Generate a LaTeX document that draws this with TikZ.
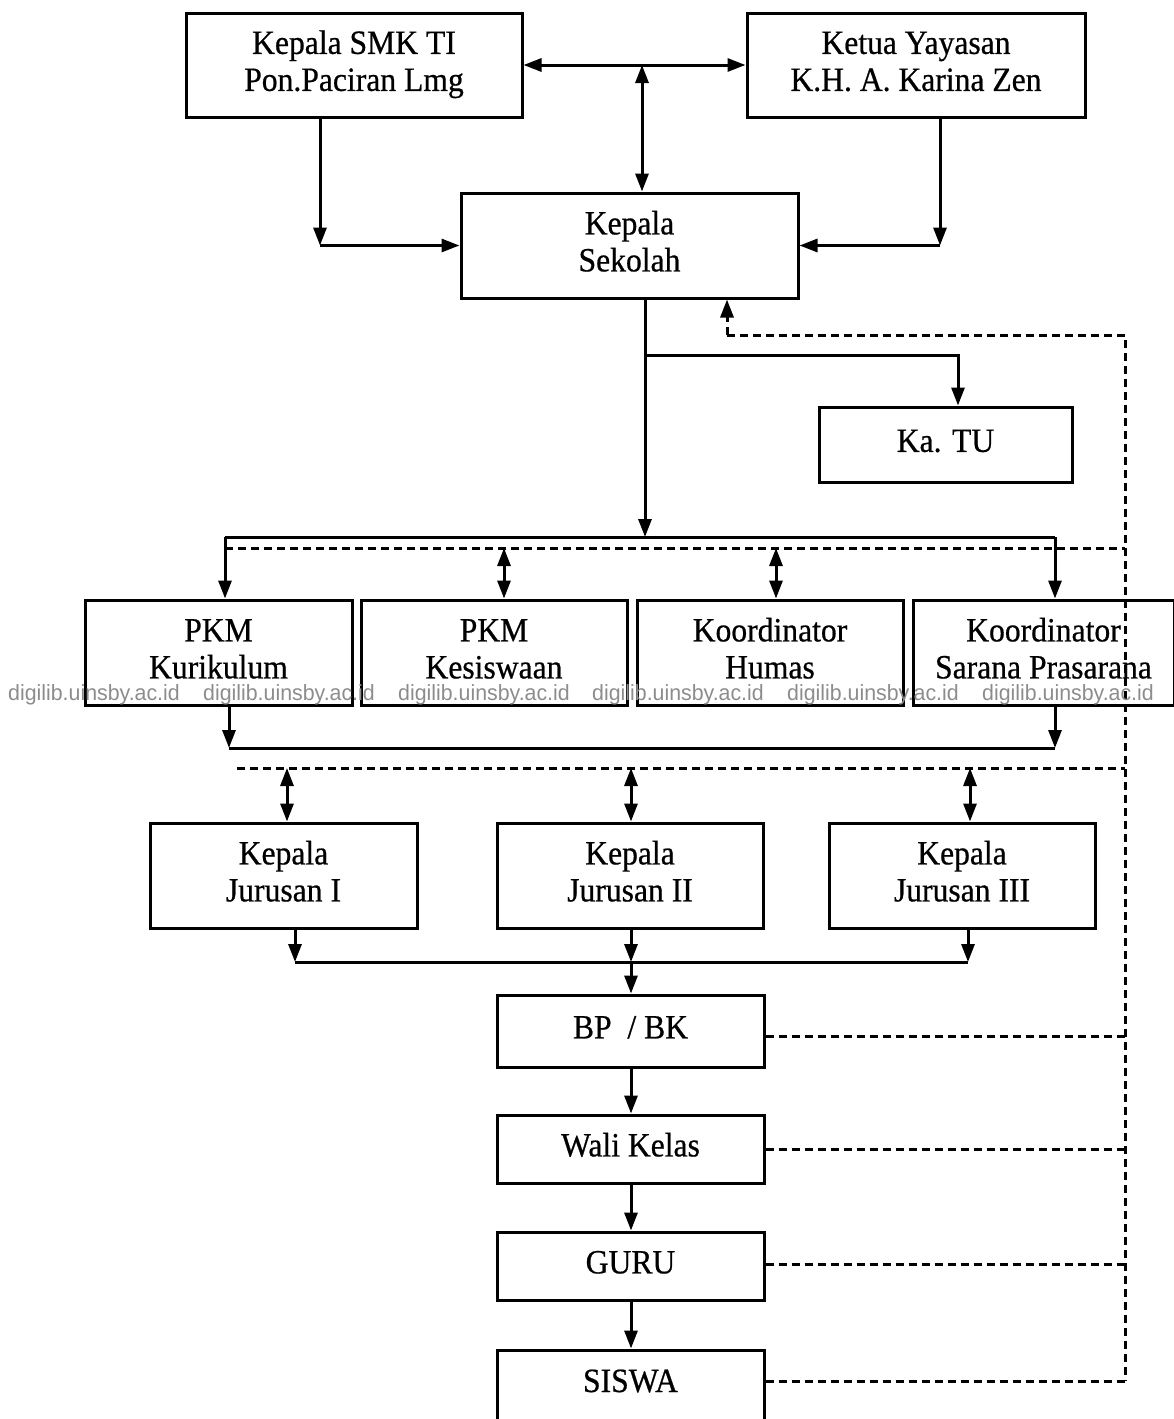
\documentclass[tikz,border=0pt]{standalone}
\usepackage{fontspec}
\setmainfont{Liberation Serif}[FakeStretch=0.93, FakeBold=0.6]
\newfontfamily\wmfont{Liberation Sans}[FakeStretch=0.97]
\usetikzlibrary{arrows.meta,calc}
\tikzset{
  box/.style={draw, line width=3pt, inner sep=0pt, align=center,
    font=\fontsize{34}{37}\selectfont},
  ln/.style={line width=3pt},
  arr/.style={line width=3pt, -{Triangle[length=18pt,width=13pt]}},
  darr/.style={line width=3pt, {Triangle[length=18pt,width=13pt]}-{Triangle[length=18pt,width=13pt]}},
  dsh/.style={line width=3pt, dash pattern=on 8pt off 5pt},
  wm/.style={text=black!45, font=\wmfont\fontsize{22}{22}\selectfont, anchor=west, inner sep=0pt}
}
\begin{document}
\begin{tikzpicture}[x=1pt,y=-1pt]
\useasboundingbox (0,0) rectangle (1174,1419);
% boxes
\node[box, minimum width=336pt, minimum height=104pt] (A) at (354,65) {Kepala SMK TI\strut\\Pon.Paciran Lmg\strut};
\node[box, minimum width=338pt, minimum height=104pt] (B) at (916,65) {Ketua Yayasan\strut\\K.H. A. Karina Zen\strut};
\node[box, minimum width=337pt, minimum height=105pt] (KS) at (629.5,245.5) {Kepala\strut\\Sekolah\strut};
\node[box, minimum width=253pt, minimum height=75pt] (TU) at (945.5,444.5) {Ka. TU\strut};
\node[box, minimum width=267pt, minimum height=105pt] (P1) at (218.5,652.5) {PKM\strut\\Kurikulum\strut};
\node[box, minimum width=266pt, minimum height=105pt] (P2) at (494,652.5) {PKM\strut\\Kesiswaan\strut};
\node[box, minimum width=266pt, minimum height=105pt] (P3) at (770,652.5) {Koordinator\strut\\Humas\strut};
\node[box, minimum width=261pt, minimum height=105pt] (P4) at (1043.5,652.5) {Koordinator\strut\\Sarana Prasarana\strut};
\node[box, minimum width=267pt, minimum height=105pt] (J1) at (283.5,875.5) {Kepala\strut\\Jurusan I\strut};
\node[box, minimum width=266pt, minimum height=105pt] (J2) at (630,875.5) {Kepala\strut\\Jurusan II\strut};
\node[box, minimum width=266pt, minimum height=105pt] (J3) at (962,875.5) {Kepala\strut\\Jurusan III\strut};
\node[box, minimum width=267pt, minimum height=72pt] (BP) at (630.5,1031) {BP~~/ BK\strut};
\node[box, minimum width=267pt, minimum height=68pt] (WK) at (630.5,1149) {Wali Kelas\strut};
\node[box, minimum width=267pt, minimum height=68pt] (GU) at (630.5,1266) {GURU\strut};
\node[box, minimum width=267pt, minimum height=100pt] (SI) at (630.5,1400) {\raisebox{8pt}[0pt][0pt]{SISWA}};
% top connectors
\draw[darr] (A.east) -- (B.west);
\coordinate (t1) at (642,65);
\draw[darr] (t1) -- (t1 |- KS.north);
\coordinate (cL) at ([xshift=-34pt]A.south |- KS.west);
\draw[arr] ([xshift=-34pt]A.south) -- (cL);
\draw[arr] (cL) -- (KS.west);
\coordinate (cR) at ([xshift=24pt]B.south |- KS.east);
\draw[arr] ([xshift=24pt]B.south) -- (cR);
\draw[arr] (cR) -- (KS.east);
% Kepala Sekolah down
\coordinate (k0) at ([xshift=15.5pt]KS.south);
\coordinate (bus1) at (225,537);
\coordinate (bus2) at (1055,537);
\draw[arr] (k0) -- (k0 |- bus1);
\coordinate (kt) at (k0 |- 0,355);
\draw[arr] (kt) -| ([xshift=12.5pt]TU.north);
\draw[ln] (bus1) -- (bus2);
\draw[arr] (bus1) -- (bus1 |- P1.north);
\draw[arr] (bus2) -- (bus2 |- P4.north);
% dashed feedback
\coordinate (d0) at (727,335);
\coordinate (dR) at (1125,335);
\draw[dsh] (d0) -- (dR) -- (1125,1381);
\draw[line width=3pt, dash pattern=on 8pt off 5pt, -{Triangle[length=18pt,width=13pt]}] (d0) -- (d0 |- KS.south);
\coordinate (e1) at (225,548);
\draw[dsh] (e1) -- (e1 -| dR);
\draw[darr] ([xshift=10pt]P2.north |- e1) -- ([xshift=10pt]P2.north);
\draw[darr] ([xshift=6pt]P3.north |- e1) -- ([xshift=6pt]P3.north);
% row 2 to bus
\coordinate (r1) at ([xshift=10.5pt]P1.south);
\coordinate (r2) at ([xshift=11.5pt]P4.south);
\draw[arr] (r1) -- (r1 |- 0,748);
\draw[arr] (r2) -- (r2 |- 0,748);
\draw[ln] (r1 |- 0,748) -- (r2 |- 0,748);
\coordinate (e2) at (237,768);
\draw[dsh] (e2) -- (e2 -| dR);
\draw[darr] ([xshift=3.5pt]J1.north |- e2) -- ([xshift=3.5pt]J1.north);
\draw[darr] ([xshift=1pt]J2.north |- e2) -- ([xshift=1pt]J2.north);
\draw[darr] ([xshift=8pt]J3.north |- e2) -- ([xshift=8pt]J3.north);
% row 3 to bus
\coordinate (s1) at ([xshift=11.5pt]J1.south);
\coordinate (s2) at ([xshift=1pt]J2.south);
\coordinate (s3) at ([xshift=6pt]J3.south);
\draw[arr] (s1) -- (s1 |- 0,962);
\draw[arr] (s2) -- (s2 |- 0,962);
\draw[arr] (s3) -- (s3 |- 0,962);
\draw[ln] (s1 |- 0,962) -- (s3 |- 0,962);
\draw[arr] (s2 |- 0,962) -- (s2 |- BP.north);
% chain
\draw[arr] (BP.south -| s2) -- (WK.north -| s2);
\draw[arr] (WK.south -| s2) -- (GU.north -| s2);
\draw[arr] (GU.south -| s2) -- (SI.north -| s2);
% dashed from lower boxes
\draw[dsh] ([yshift=-5pt]BP.east) -- ([yshift=-5pt]BP.east -| dR);
\draw[dsh] (WK.east) -- (WK.east -| dR);
\draw[dsh] ([yshift=2pt]GU.east) -- ([yshift=2pt]GU.east -| dR);
\coordinate (sE) at (SI.east |- 0,1381);
\draw[dsh] (sE) -- (sE -| dR);
% watermark
\foreach \i [count=\k] in {8,203,398,592,787,982} {
  \node[wm] (w\k) at (\i,695) {digilib.uinsby.ac.id};
}
\end{tikzpicture}
\end{document}
